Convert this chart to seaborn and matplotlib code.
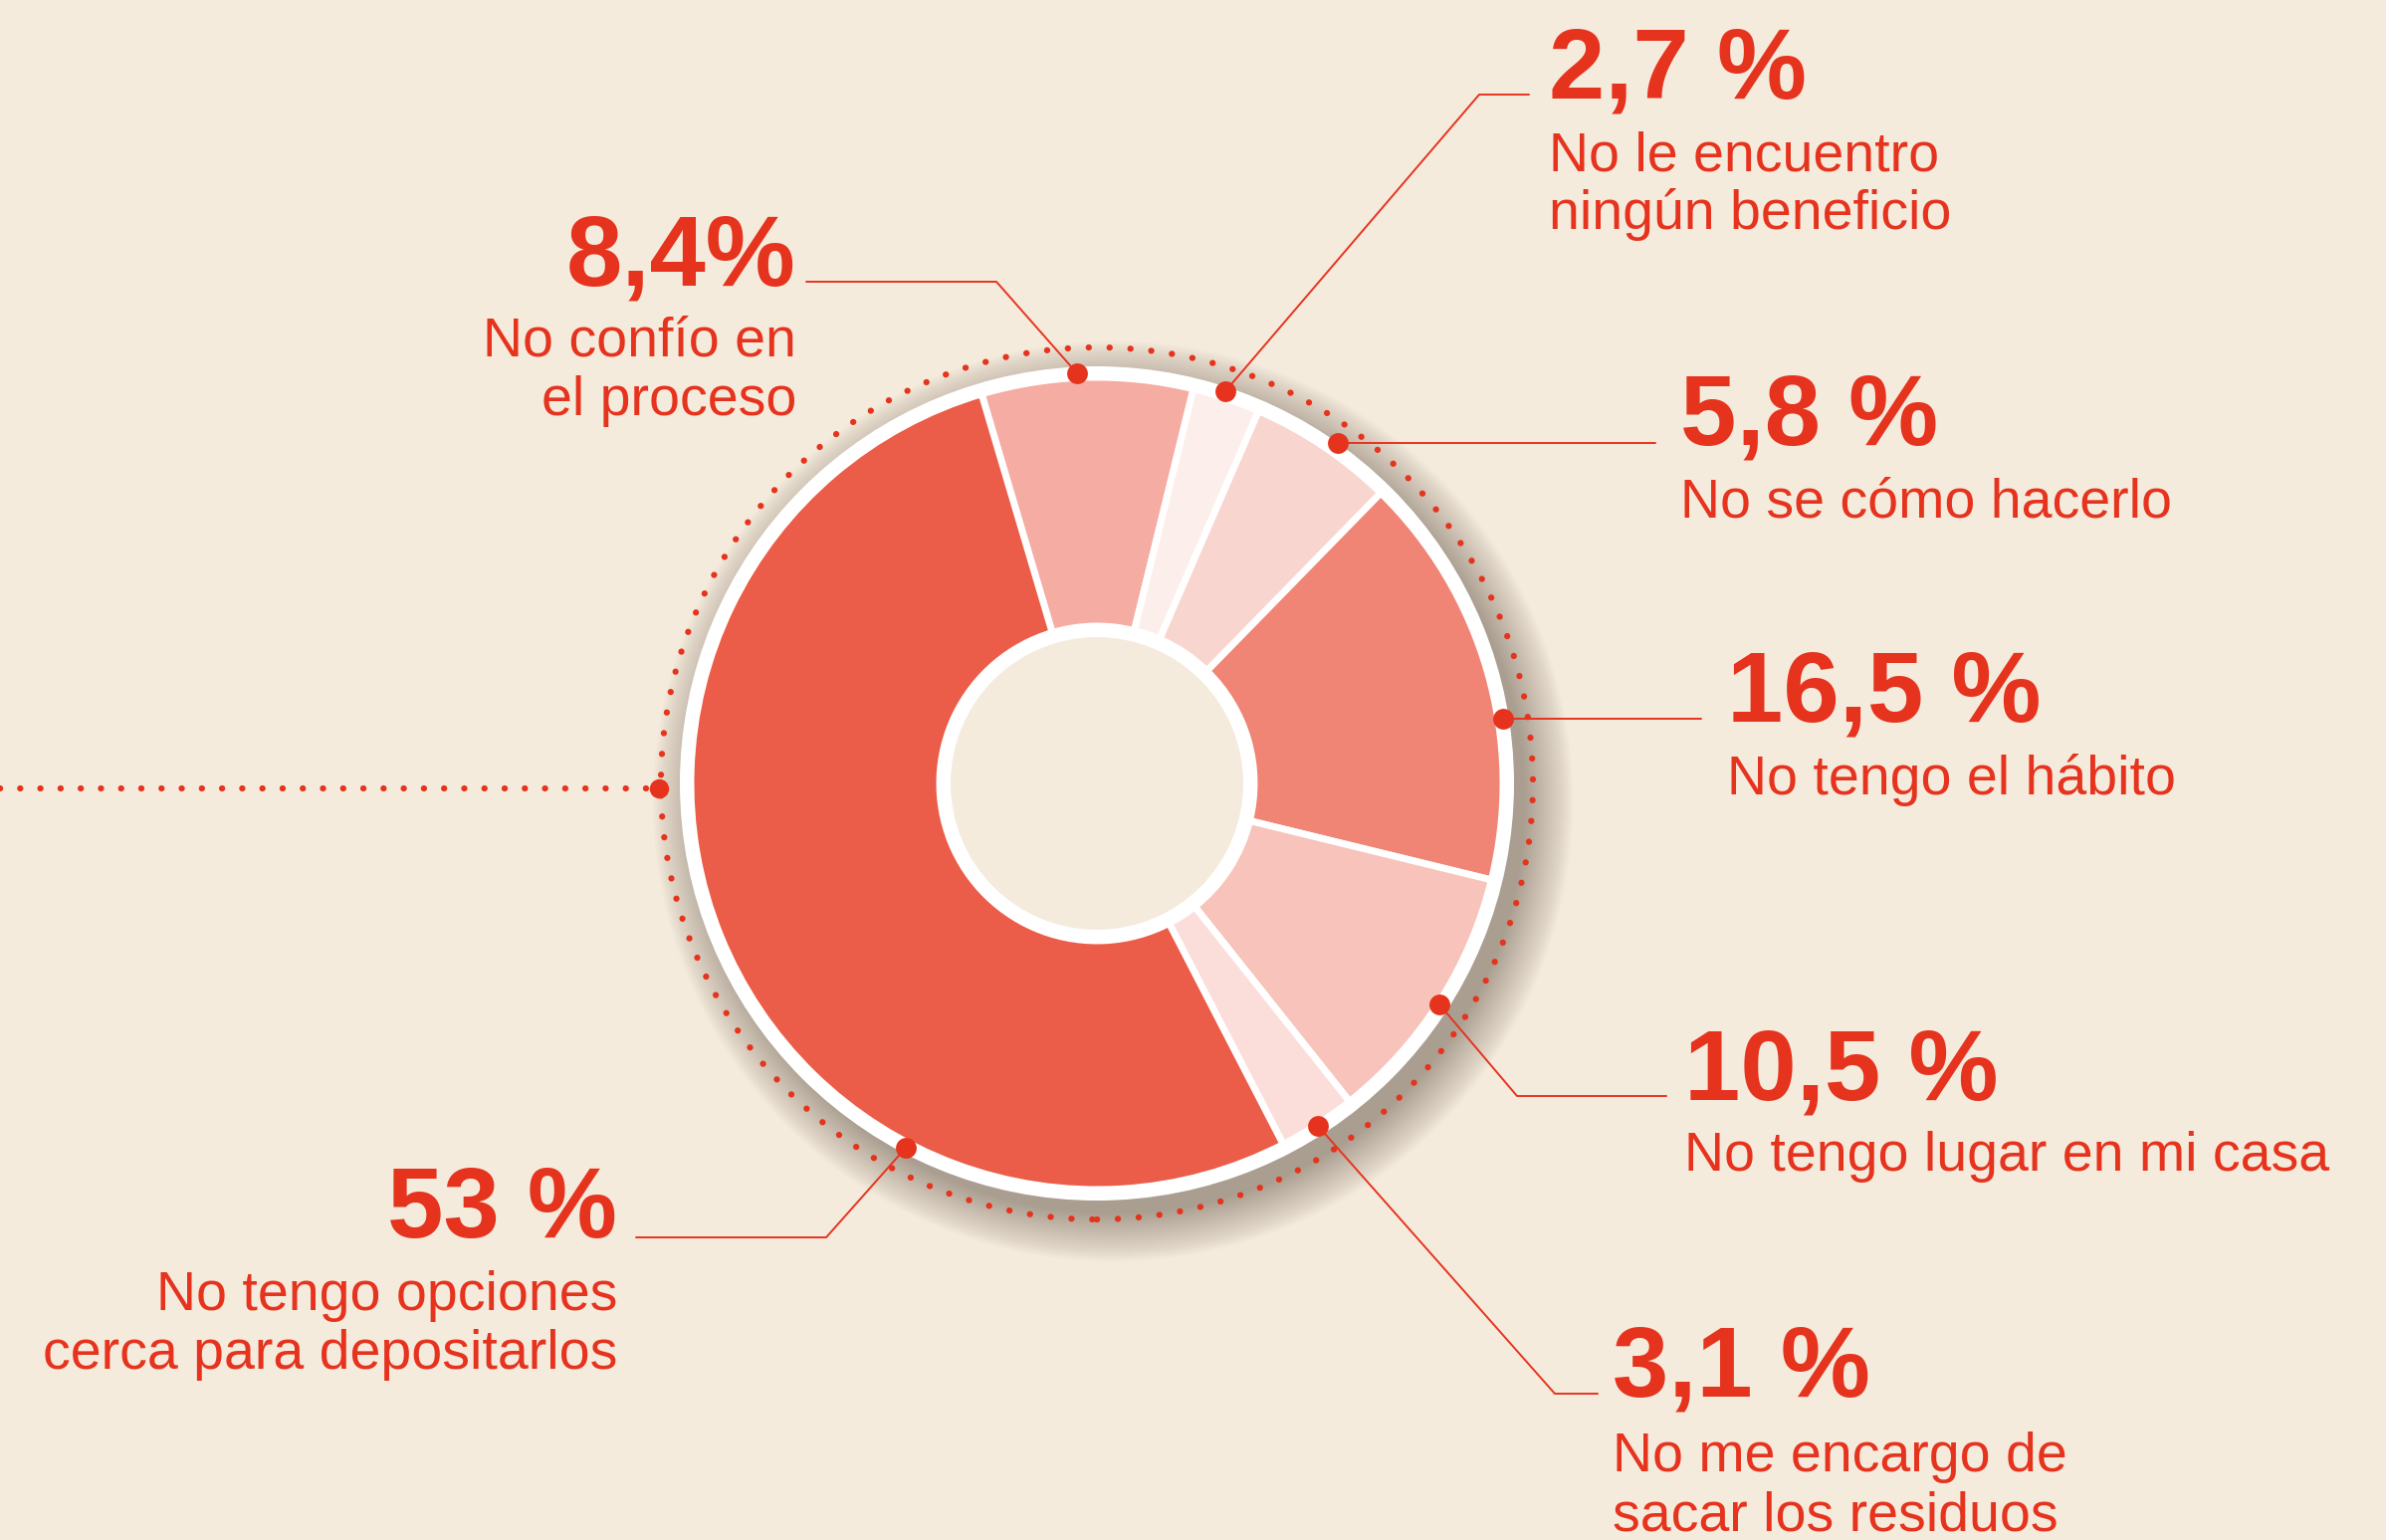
import numpy as np
import seaborn as sns
import matplotlib.pyplot as plt
import matplotlib.font_manager as fm
from matplotlib.patches import Circle

# datos
categorias = ["No confío en\nel proceso", "No le encuentro\nningún beneficio", "No se cómo hacerlo",
              "No tengo el hábito", "No tengo lugar en mi casa", "No me encargo de\nsacar los residuos",
              "No tengo opciones\ncerca para depositarlos"]
valores = [8.4, 2.7, 5.8, 16.5, 10.5, 3.1, 53.0]
etiquetas = ["8,4%", "2,7 %", "5,8 %", "16,5 %", "10,5 %", "3,1 %", "53 %"]
colores = ["#F5ACA3", "#FCEEEB", "#F9D5CF", "#F08576", "#F7C3BB", "#FBDEDA", "#EB5D48"]

W, H = 2397, 1547
BG = "#F5EBDD"
RED = "#E6331E"
cx, cy = 1102, H - 787

sns.set_theme(style="white")
names = {f.name for f in fm.fontManager.ttflist}
narrow = "Liberation Sans Narrow" if "Liberation Sans Narrow" in names else "Liberation Sans"
plt.rcParams["font.family"] = [narrow, "DejaVu Sans"]
plt.rcParams["lines.scale_dashes"] = False

fig = plt.figure(figsize=(W / 100, H / 100), dpi=100, facecolor=BG)
ax = fig.add_axes([0, 0, 1, 1])
ax.set_facecolor(BG)

# sombra (desplazada hacia abajo a la derecha)
for r in np.linspace(462, 414, 24):
    ax.add_patch(Circle((cx + 16, cy - 18), r, color="#4a3c2e", alpha=0.02, lw=0, zorder=1))
ax.add_patch(Circle((cx, cy), 419, color="white", lw=0, zorder=2))
ax.add_patch(Circle((cx, cy), 438, fill=False, ec=RED, lw=4.5, ls=(0, (0.1, 15)),
                    capstyle="round", zorder=3))

wedges, _ = ax.pie(valores, colors=colores, startangle=106.5, counterclock=False,
                   radius=408, center=(cx, cy),
                   wedgeprops=dict(width=250, edgecolor="white", linewidth=5))
for w in wedges:
    w.set_zorder(4)
ax.add_patch(Circle((cx, cy), 160, color="white", lw=0, zorder=5))
ax.add_patch(Circle((cx, cy), 147, color=BG, lw=0, zorder=6))

# lineas guia (pixeles desde arriba)
guias = [
    [(1082, 375), (1001, 283), (810, 283)],
    [(1231, 393), (1486, 95), (1536, 95)],
    [(1344, 445), (1663, 445)],
    [(1510, 722), (1709, 722)],
    [(1446, 1009), (1524, 1101), (1674, 1101)],
    [(1324, 1131), (1562, 1400), (1605, 1400)],
    [(910, 1153), (830, 1243), (639, 1243)],
]
for g in guias:
    xs = [p[0] for p in g]
    ys = [H - p[1] for p in g]
    ax.plot(xs, ys, color=RED, lw=1.4, zorder=7)
    ax.plot(xs[0], ys[0], "o", color=RED, ms=15, mec="none", zorder=8)

ax.plot([0, 662], [H - 792, H - 792], color=RED, lw=4.5, ls=(0, (0.1, 14.5)),
        solid_capstyle="round", dash_capstyle="round", zorder=7)
ax.plot(662, H - 792, "o", color=RED, ms=14, mec="none", zorder=8)

# textos: (x, base %, base subtitulo, alineacion)
pos = [
    (800, 287, 358, "right"),
    (1556, 99, 171, "left"),
    (1688, 446, 520, "left"),
    (1735, 725, 798, "left"),
    (1692, 1104, 1176, "left"),
    (1620, 1403, 1478, "left"),
    (620, 1243, 1316, "right"),
]
for (x, yb, ys, ha), lab, cat in zip(pos, etiquetas, categorias):
    ax.text(x, H - yb, lab, color=RED, fontsize=73, fontweight="bold", ha=ha, va="baseline", zorder=9)
    for i, linea in enumerate(cat.split("\n")):
        ax.text(x, H - ys - i * 59, linea, color=RED, fontsize=40, ha=ha, va="baseline", zorder=9)

ax.set_xlim(0, W)
ax.set_ylim(0, H)
ax.set_aspect("equal")
ax.axis("off")
fig.savefig("out.png", dpi=100, facecolor=BG)
